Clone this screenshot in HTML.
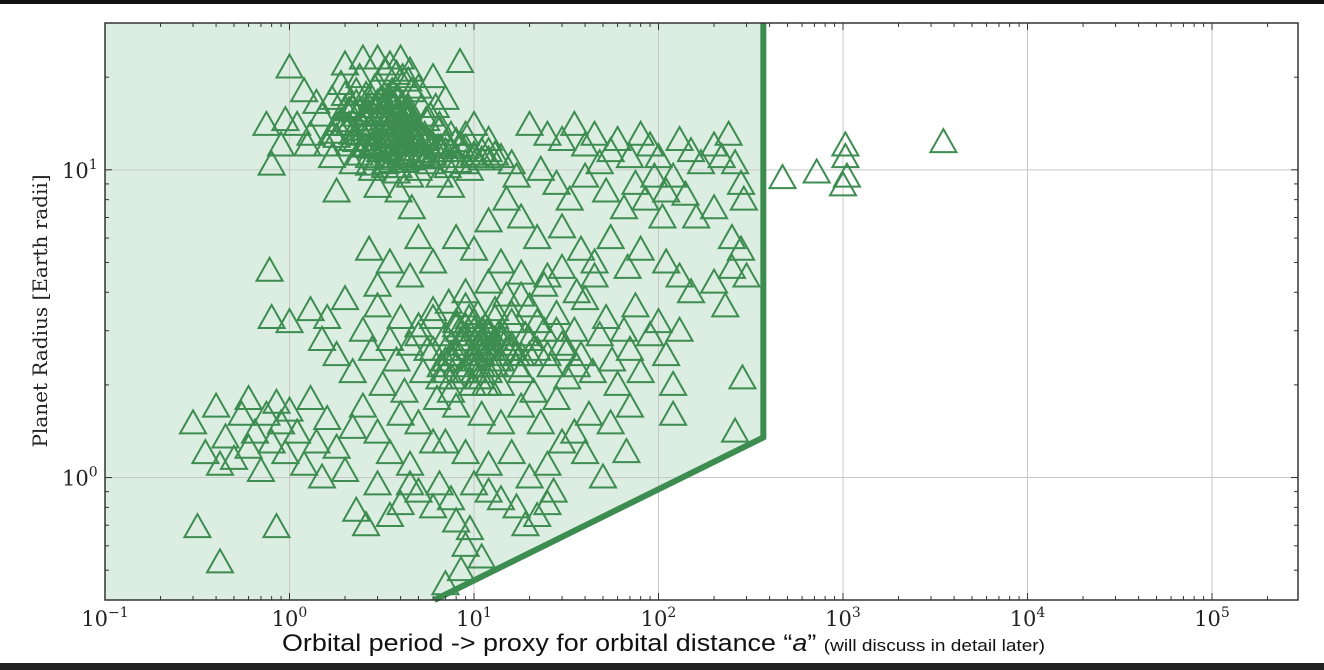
<!DOCTYPE html>
<html><head><meta charset="utf-8"><style>
html,body{margin:0;padding:0;background:#fff;width:1324px;height:670px;overflow:hidden}
svg{display:block}
</style></head><body>
<svg id="chart" width="1324" height="670" viewBox="0 0 1324 670" xmlns="http://www.w3.org/2000/svg">
<rect x="0" y="0" width="1324" height="4" fill="#111"/>
<rect x="0" y="663" width="1324" height="7" fill="#222"/>
<g id="plot"></g>
<text transform="translate(47,311) rotate(-90)" text-anchor="middle" font-family="'DejaVu Serif','Liberation Serif',serif" font-size="20" fill="#222">Planet Radius [Earth radii]</text>
<text x="282" y="651" textLength="763" lengthAdjust="spacingAndGlyphs" font-family="'Liberation Sans',sans-serif" font-size="24" fill="#111">Orbital period -&gt; proxy for orbital distance “<tspan font-style="italic">a</tspan>” <tspan font-size="17">(will discuss in detail later)</tspan></text>
</svg>
<script>
const xTickExps=[-1,0,1,2,3,4,5];
const yTickExps=[0,1];
const boundaryP=[6.1,370,370];
const boundaryR=[0.4,1.35,30];
const periods=[1.3,1.5,1.7,1.9,2.0,2.1,2.2,2.3,2.4,2.5,2.6,2.7,2.8,2.9,3.0,3.1,3.2,3.3,3.4,3.5,3.6,3.7,3.8,3.9,4.0,4.1,4.2,4.3,4.4,4.5,4.6,4.8,5.0,5.2,5.4,5.6,5.8,6.0,6.5,7.0,7.5,8,8.5,9,10,11,12,13,1.6,1.8,2.0,2.5,3,3.5,4,4.5,1.4,1.2,1.1,2.2,2.8,3.3,3.8,4.5,5,2.7,3.2,3.6,4.2,2.4,3.0,3.5,4.0,2.6,3.4,4.8,5.5,6.2,7,2,1.7,5,6,4.4,3.8,2.9,8.4,1.0,0.75,0.8,0.9,0.95,1.25,10,12,9,14,16,6.5,7.5,3.9,3.0,4.6,1.8,
20,25,30,35,40,45,55,60,70,80,90,100,110,120,130,150,170,200,220,240,260,280,290,23,28,33,40,48,52,65,75,85,95,105,140,160,200,250,280,300,18,22,30,38,45,55,68,80,110,130,150,200,230,250,12,15,17,8,10,6,5,4.5,3.5,3,2.7,14,25,
470,720,1030,1030,1050,1000,3500,
1.0,0.8,0.78,1.3,1.5,1.6,1.8,2.0,2.2,2.5,2.8,3.0,3.2,3.5,3.8,4.0,4.2,4.5,5,5.3,5.6,6,6.3,6.6,7,7.3,7.6,8,8.3,8.6,9,9.4,9.8,10,10.5,11,11.5,12,12.5,13,13.5,14,15,16,17,18,19,20,21,22,24,26,28,30,32,35,38,40,44,48,52,56,60,65,70,75,80,90,100,110,120,130,9,12,15,18,24,30,36,45,8,11,14,18,23,28,35,42,55,70,5,6,4,3,2.5,3.5,4.5,7,9,12,16,20,25,30,40,50,120,67,285,260,10,11,12,13,9.5,10.5,14,8.5,16,12,
0.3,0.35,0.4,0.45,0.5,0.55,0.6,0.65,0.7,0.75,0.8,0.85,0.9,0.95,1.0,1.1,1.2,1.3,1.4,1.5,1.6,1.8,2.0,2.2,0.42,0.6,
0.317,0.85,0.42,7,2.3,2.6,3.5,4,5,6,7.5,8,9,9.5,11,12,14,17,19,22,25,27,3,4.5,6.5,10,8.5];
const radii=[13,15,17,19,14,12,16,18,20,13,15,11,17,14,19,12,16,21,13,15,18,11,14,17,12,20,15,13,16,11,18,14,12,16,13,11,15,12,14,11.5,13,11,12,10.5,11,11.5,10.8,11.2,12,14,22,23,23,22,23,21,16.5,18,14,10.5,10,10.2,9.8,9.5,10,13.5,14.5,13.8,14,15.5,16.5,17,16,12.5,11.5,12.8,14.5,16,17,17.5,11,18.5,20,19.5,20.5,18.5,22.4,21.5,14,10.4,12,14.5,12,14,12.5,13,11,10.5,9.5,8.8,8.5,8.8,7.5,8.5,
14,13,12.5,14,12,13,11.5,12.5,11,13,12,11,8.5,9.5,12.5,11.5,10.5,12,11,13,10.5,9,8,10,9,8,9.5,10.5,8.5,7.5,9,8,9.5,7,8.3,7,7.5,6,5.5,4.5,7,6,6.5,5.5,5,6,4.8,5.5,5,4.5,4,4.3,3.6,4.8,6.8,8,9.5,6,5.5,5,6,4.5,5,4.2,5.5,5,4.5,
9.4,9.8,12,11,9.5,8.9,12.3,
3.2,3.3,4.7,3.5,2.8,3.3,2.5,3.8,2.2,3.0,2.6,3.6,2.0,2.8,2.4,3.3,1.9,2.7,3.1,2.2,2.6,3.5,1.8,2.3,2.9,3.7,2.1,2.5,3.0,2.2,2.7,3.3,2.0,2.4,2.9,2.6,3.1,2.2,2.7,3.5,2.4,2.0,2.8,3.2,2.5,2.2,2.9,3.6,1.9,2.6,3.0,2.3,3.4,2.7,2.1,3.0,2.5,3.8,2.2,2.9,3.3,2.4,2.0,3.0,2.6,3.6,2.2,2.9,3.2,2.5,2.0,3.0,4.0,4.3,3.9,4.6,4.2,4.8,4.0,4.5,1.7,1.6,1.5,1.7,1.5,1.8,1.4,1.6,1.5,1.7,1.5,1.3,1.6,1.4,1.7,1.2,1.1,1.3,1.2,1.1,1.2,1.0,1.1,1.3,1.2,1.0,1.6,1.21,2.1,1.41,2.2,2.8,3.0,2.5,2.4,3.4,2.9,2.7,2.6,2.4,
1.5,1.2,1.7,1.35,1.15,1.6,1.8,1.4,1.05,1.6,1.3,1.75,1.5,1.2,1.65,1.4,1.1,1.8,1.3,1.0,1.55,1.25,1.05,1.45,1.1,1.25,
0.69,0.69,0.53,0.45,0.78,0.7,0.75,0.82,0.9,0.8,0.85,0.72,0.6,0.68,0.55,0.9,0.85,0.8,0.7,0.75,0.82,0.9,0.95,0.95,0.95,0.95,0.5];
const extraPeriods=[2.1,2.3,2.5,2.7,2.9,3.1,3.3,3.5,3.7,3.9,4.1,4.3,4.5,4.7,2.2,2.4,2.6,2.8,3.0,3.2,3.4,3.6,3.8,4.0,4.2,4.4,4.6,2.0,2.3,2.6,2.9,3.2,3.5,3.8,4.1,4.4,4.7,5.0,5.5,6.0,6.5,7.0,7.5,8.0,9.0,10,11,12,5.2,5.8,6.4,7.2,8.2,9.5,3.1,3.4,3.7,4.0,2.8,2.5,3.3,3.9,4.6,5.3,2.4,2.7,3.6,4.3,
7.5,8.5,9.5,10.5,11.5,12.5,13.5,9,10,11,12,13,8,9,10,11,12,14,15,10,11,12,13,9,10,11,12,13,14,16,18,7,8,9,10.5,11.5,12.5,15,17,20,
1.7,1.9,2.1,2.3,2.5,2.7,2.9,3.1,3.3,3.5,3.7,3.9,4.1,4.3,4.5,4.8,5.1,5.5,6.0,6.6,1.8,2.2,2.6,3.0,3.4,3.8,4.2,4.6,5.0,5.6,
5,6,7,8,9,6.5,7.5,20,22,25,28,32,36,16,18,6,7,8];
const extraRadii=[14,15,13,16,14,15,13,14,16,15,13,14,15,13,12.5,13.5,14.5,12,13,15.5,14.2,12.8,15,13.6,12.3,14.8,13.2,15.8,16.5,17.5,16,17,16.5,17.2,16.2,15.5,14,13,12.5,12,13.5,12.2,11.5,12.4,11.8,11.2,10.8,11.5,11,10.5,11.8,10.2,10.6,10,11.5,11,10.8,11.2,11.8,12,10.5,10.2,10.8,11.4,11.2,10.4,10.6,11.6,
2.5,2.8,2.4,2.7,2.3,2.6,2.9,2.2,2.5,2.3,2.6,2.8,2.6,2.9,3.0,2.5,2.7,2.4,2.6,2.2,2.1,2.0,2.3,3.1,3.2,3.0,2.9,3.3,2.8,2.7,2.5,2.4,2.3,2.2,2.1,2.0,2.4,2.6,2.3,2.5,
13.2,14.4,15.6,12.4,13.9,15.2,12.1,16.8,14.1,12.7,16.3,13.4,12.6,15.7,13.8,12.3,11.4,12.6,11.2,11.8,12.8,13.1,11.9,10.8,11.6,12.9,10.6,12.2,11.1,10.9,
2.9,3.3,2.6,3.2,3.6,2.1,1.9,2.8,3.2,2.5,3.0,2.6,2.3,3.4,3.9,2.6,2.2,3.1];

const L=105,R=1298,T=23,B=600;
const xMin=-1,xMax=5.466,yMin=Math.log10(0.4),yMax=Math.log10(30);
const xs=v=>L+(Math.log10(v)-xMin)/(xMax-xMin)*(R-L);
const ys=v=>B-(Math.log10(v)-yMin)/(yMax-yMin)*(B-T);
const NS='http://www.w3.org/2000/svg';
const plot=document.getElementById('plot');
function mk(tag,attrs,parent){const e=document.createElementNS(NS,tag);for(const k in attrs)e.setAttribute(k,attrs[k]);(parent||plot).appendChild(e);return e;}

const bx=boundaryP.map(xs),by=boundaryR.map(ys);
const shade=mk('polygon',{points:`${L},${T} ${bx[2]},${T} ${bx[1]},${by[1]} ${bx[0]},${B} ${L},${B}`,fill:'#dcede2'});



for(const e of xTickExps){const x=xs(Math.pow(10,e));if(x>L+1){const g=mk('line',{x1:x,x2:x,y1:T,y2:B,stroke:'#c8c8c8','stroke-width':1});}}
for(const e of yTickExps){const y=ys(Math.pow(10,e));const g=mk('line',{x1:L,x2:R,y1:y,y2:y,stroke:'#c8c8c8','stroke-width':1});}

const pts=mk('g',{});


const allP=periods.concat(extraPeriods),allR=radii.concat(extraRadii);
for(let i=0;i<allP.length;i++){
  const x=xs(allP[i]),y=ys(allR[i]);
  const t=mk('polygon',{points:`${x-13},${y+10} ${x+13},${y+10} ${x},${y-13}`,fill:'none',stroke:'#3d8c50','stroke-width':2},pts);
  
  
}

const bl=mk('polyline',{points:`${bx[0]},${B} ${bx[1]},${by[1]} ${bx[2]},${T}`,fill:'none',stroke:'#3d8c50','stroke-width':6});



const fr=mk('rect',{x:L,y:T,width:R-L,height:B-T,fill:'none',stroke:'#333','stroke-width':1.5});



for(let e=-1;e<=5;e++){for(let m=1;m<10;m++){const v=m*Math.pow(10,e);const x=xs(v);if(x<L||x>R)continue;const len=m===1?7:4;
 mk('line',{x1:x,x2:x,y1:B,y2:B-len,stroke:'#333','stroke-width':1});mk('line',{x1:x,x2:x,y1:T,y2:T+len,stroke:'#333','stroke-width':1});}}
for(let e=-1;e<=1;e++){for(let m=1;m<10;m++){const v=m*Math.pow(10,e);const y=ys(v);if(y<T||y>B)continue;const len=m===1?7:4;
 mk('line',{x1:L,x2:L+len,y1:y,y2:y,stroke:'#333','stroke-width':1});mk('line',{x1:R,x2:R-len,y1:y,y2:y,stroke:'#333','stroke-width':1});}}

for(const e of xTickExps){const x=xs(Math.pow(10,e));
 const t=mk('text',{x:x,y:626,'text-anchor':'middle','font-family':"'DejaVu Serif','Liberation Serif',serif",'font-size':21,fill:'#222'});
 
 
 t.innerHTML=`10<tspan dy="-9" font-size="14">${e<0?'−'+(-e):e}</tspan>`;}
for(const e of yTickExps){const y=ys(Math.pow(10,e));
 const t=mk('text',{x:62,y:y+8,'text-anchor':'start','font-family':"'DejaVu Serif','Liberation Serif',serif",'font-size':21,fill:'#222'});
 
 
 t.innerHTML=`10<tspan dy="-9" font-size="14">${e}</tspan>`;}
</script>
</body></html>
